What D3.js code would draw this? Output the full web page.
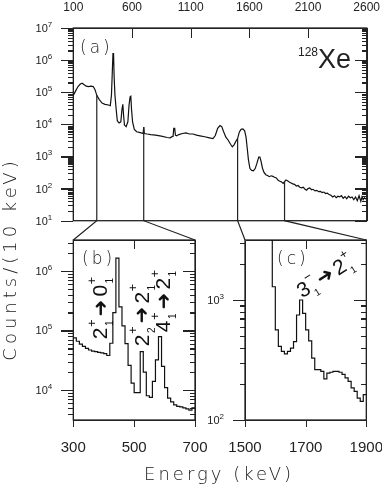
<!DOCTYPE html>
<html lang="en">
<head>
<meta charset="UTF-8">
<title>128Xe spectrum</title>
<style>
    body { margin: 0; background: #fff; }
    svg { display: block; will-change: transform; }
    .axis path, .axis line { fill: none; stroke: #222; stroke-width: 1.2; shape-rendering: crispEdges; }
    .frame { fill: none; stroke: #222; stroke-width: 1.3; }
    .spec { fill: none; stroke: #111; stroke-width: 1.2; }
    .link { fill: none; stroke: #222; stroke-width: 1.2; }
    .num { font-family: "Liberation Sans", Arial, sans-serif; fill: #222; }
    .title { font-family: "DejaVu Sans", sans-serif; font-weight: 200; fill: #1a1a1a; }
    .ann { font-family: "Liberation Sans", Arial, sans-serif; fill: #111; }
</style>
</head>
<body>
<svg></svg>
<script src="https://cdn.jsdelivr.net/npm/d3@7"></script>
<script>
// panel (a): whole spectrum, energy (keV) / counts per 10 keV
var energyA = [100,120,140,160,175,190,210,230,250,270,285,300,320,345,370,400,415,425,432,438,443,448,455,465,475,490,505,515,522,528,536,550,565,575,584,590,596,605,620,640,670,695,700,705,730,760,800,850,900,925,945,950,956,964,970,980,1000,1030,1060,1090,1120,1150,1180,1220,1260,1290,1310,1330,1350,1365,1380,1400,1420,1440,1455,1470,1490,1500,1515,1530,1545,1560,1572,1582,1592,1605,1620,1635,1650,1665,1680,1690,1700,1712,1725,1740,1755,1770,1785,1800,1815,1830,1845,1860,1875,1888,1900,1912,1925,1940,1955,1970,1985,2000,2015,2030,2045,2060,2075,2087,2100,2115,2130,2143,2160,2175,2190,2205,2220,2235,2250,2265,2280,2295,2310,2325,2340,2355,2370,2385,2400,2415,2430,2445,2460,2475,2490,2505,2520,2535,2550,2560,2570,2580,2590,2600];
var countsA = [8.0e4,1.1e5,1.5e5,1.8e5,1.9e5,1.75e5,1.55e5,1.5e5,1.55e5,1.5e5,1.2e5,8.0e4,6.0e4,4.6e4,4.2e4,4.0e4,3.8e4,8e4,4e5,1.6e6,1.6e6,3e5,8e4,3e4,1.3e4,1.1e4,1.2e4,3e4,4.2e4,2e4,9.5e3,8.5e3,1.2e4,4e4,7.2e4,7.5e4,3e4,1.2e4,7e3,5.9e3,5.5e3,5.2e3,8.2e3,5.2e3,5.0e3,4.8e3,4.6e3,4.3e3,3.9e3,3.8e3,4.2e3,4.2e3,7.5e3,7.5e3,4.6e3,4.4e3,4.8e3,5.2e3,5.4e3,5.0e3,5.0e3,4.6e3,4.4e3,4.1e3,3.8e3,3.6e3,4.5e3,7.5e3,9.2e3,8.5e3,6.0e3,4.0e3,3.2e3,2.4e3,2.0e3,2.3e3,3.2e3,3.6e3,5.8e3,7.0e3,7.2e3,6.3e3,4e3,1.8e3,800,420,370,360,420,620,950,950,700,430,320,270,255,235,250,240,225,215,180,170,160,145,165,185,175,160,150,140,135,120,125,110,105,110,95,89,100,105,92,95,85,88,80,82,75,78,70,72,65,62,55,60,52,58,55,60,50,56,48,58,52,55,45,55,42,60,40,55,45,52,48,50];

// panel (b): 10 keV bins, lower edges
var binsB = [300,310,320,330,340,350,360,370,380,390,400,410,420,430,440,450,460,470,480,490,500,510,520,530,540,550,560,570,580,590,600,610,620,630,640,650,660,670,680,690];
var countsB = [7.5e4,6.6e4,5.9e4,5.4e4,5.0e4,4.7e4,4.5e4,4.4e4,4.3e4,4.2e4,4.1e4,3.8e4,6.1e4,2.0e5,1.65e6,2.5e5,1.2e5,6.0e4,2.6e4,1.3e4,9.0e3,9.0e3,4.4e4,2.0e4,8.0e3,7.5e3,1.4e4,3.2e4,7.9e4,2.5e4,1.1e4,7.3e3,6.3e3,5.6e3,5.3e3,5.2e3,5.0e3,4.8e3,4.6e3,5.0e3];

// panel (c): 10 keV bins, lower edges
var binsC = [1500,1510,1520,1530,1540,1550,1560,1570,1580,1590,1600,1610,1620,1630,1640,1650,1660,1670,1680,1690,1700,1710,1720,1730,1740,1750,1760,1770,1780,1790,1800,1810,1820,1830,1840,1850,1860,1870,1880,1890];
var countsC = [3600,5000,6300,7000,7200,6800,6300,4500,3300,1290,564,410,373,356,373,397,450,750,1000,775,564,456,328,263,263,254,220,246,250,254,254,250,240,224,210,185,173,152,143,163];

var xTicksA = [100,600,1100,1600,2100,2600];
var xTicksB = [300,500,700];
var xTicksC = [1500,1700,1900];
var zoomB = [300,700];
var zoomC = [1500,1900];
var binWidth = 10;

var svg = d3.select("svg").attr("width",382).attr("height",489);

var xA = d3.scaleLinear().domain([100,2600]).range([73.3,366.7]);
var yA = d3.scaleLog().domain([10,1e7]).range([220.7,28]);
var xB = d3.scaleLinear().domain(zoomB).range([73.3,195]);
var yB = d3.scaleLog().domain([3130,3.32e6]).range([420,240]);
var xC = d3.scaleLinear().domain(zoomC).range([245,366.3]);
var yC = d3.scaleLog().domain([100,3162]).range([420,240]);

function decades(y) {
    var d = y.domain(), out = [];
    for (var e = Math.floor(Math.log10(d[0])); e <= Math.ceil(Math.log10(d[1])); e++) {
        var v = Math.pow(10,e);
        if (v >= d[0]*0.999 && v <= d[1]*1.001) out.push(v);
    }
    return out;
}
function minors(y) {
    var d = y.domain(), out = [];
    for (var e = Math.floor(Math.log10(d[0])); e <= Math.ceil(Math.log10(d[1])); e++)
        for (var m = 2; m <= 9; m++) {
            var v = m*Math.pow(10,e);
            if (v >= d[0] && v <= d[1]) out.push(v);
        }
    return out;
}

function frame(x, y, name) {
    var x0 = x.range()[0], x1 = x.range()[1], y0 = y.range()[1], y1 = y.range()[0];
    var g = svg.append("g");
    svg.append("clipPath").attr("id","clip"+name).append("rect")
        .attr("x",x0).attr("y",y0).attr("width",x1-x0).attr("height",y1-y0);
    // left: outward ticks, right: inward ticks
    g.append("g").attr("class","axis").attr("transform","translate("+x0+",0)")
        .call(d3.axisLeft(y).tickValues(decades(y)).tickSize(12).tickSizeOuter(0).tickFormat(""));
    g.append("g").attr("class","axis").attr("transform","translate("+x0+",0)")
        .call(d3.axisLeft(y).tickValues(minors(y)).tickSize(5).tickSizeOuter(0).tickFormat(""));
    g.append("g").attr("class","axis").attr("transform","translate("+x1+",0)")
        .call(d3.axisLeft(y).tickValues(decades(y)).tickSize(-12).tickSizeOuter(0).tickFormat(""))
        .selectAll("line").attr("x2",-12);
    g.append("g").attr("class","axis").attr("transform","translate("+x1+",0)")
        .call(d3.axisLeft(y).tickValues(minors(y)).tickSize(-5).tickSizeOuter(0).tickFormat(""))
        .selectAll("line").attr("x2",-5);
    g.append("rect").attr("class","frame").attr("x",x0).attr("y",y0)
        .attr("width",x1-x0).attr("height",y1-y0);
    // y labels 10^n
    g.selectAll(".ylab").data(decades(y)).enter().append("text")
        .attr("class","num")
        .attr("x",x0-21).attr("y",function(d){ return y(d)+4; })
        .attr("text-anchor","end").style("font-size","11px")
        .each(function(d){
            var t = d3.select(this);
            t.append("tspan").text("10");
            t.append("tspan").attr("dy",-5).style("font-size","8px").text(Math.round(Math.log10(d)));
        });
    return g;
}

// ---- panel (a)
var gA = frame(xA, yA, "A");
gA.append("g").attr("class","axis").attr("transform","translate(0,28)")
    .call(d3.axisBottom(xA).tickValues(xTicksA).tickSize(10).tickSizeOuter(0).tickFormat(""));
gA.selectAll(".xlab").data(xTicksA).enter().append("text").attr("class","num")
    .attr("x",function(d){ return xA(d); }).attr("y",11)
    .attr("text-anchor","middle").style("font-size","12px").text(function(d){ return d; });

var ptsA = energyA.map(function(e,i){ return [e,countsA[i]]; });
gA.append("path").datum(ptsA).attr("class","spec").attr("clip-path","url(#clipA)")
    .attr("d", d3.line().x(function(d){ return xA(d[0]); }).y(function(d){ return yA(d[1]); }));

// ---- panels (b), (c)
function histo(x, y, bins, counts, ticks, name) {
    var g = frame(x, y, name);
    var y0 = y.range()[1], y1 = y.range()[0];
    g.append("g").attr("class","axis").attr("transform","translate(0,"+y0+")")
        .call(d3.axisBottom(x).tickValues(ticks.slice(1,-1)).tickSize(9).tickSizeOuter(0).tickFormat(""));
    g.append("g").attr("class","axis").attr("transform","translate(0,"+y1+")")
        .call(d3.axisBottom(x).tickValues(ticks).tickSize(7).tickSizeOuter(0).tickFormat(""));
    g.selectAll(".xlab").data(ticks).enter().append("text").attr("class","num")
        .attr("x",function(d){ return x(d); }).attr("y",y1+32)
        .attr("text-anchor","middle").style("font-size","15px").text(function(d){ return d; });
    var pts = bins.map(function(b,i){ return [b,counts[i]]; });
    pts.push([bins[bins.length-1]+binWidth, counts[counts.length-1]]);
    g.append("path").datum(pts).attr("class","spec").attr("clip-path","url(#clip"+name+")")
        .attr("d", d3.line().curve(d3.curveStepAfter)
            .x(function(d){ return x(d[0]); }).y(function(d){ return y(d[1]); }));
    return g;
}
var gB = histo(xB, yB, binsB, countsB, xTicksB, "B");
var gC = histo(xC, yC, binsC, countsC, xTicksC, "C");

// ---- zoom connectors
function countAt(e) {
    var i = d3.bisector(function(d){ return d; }).left(energyA, e);
    if (energyA[i] === e) return countsA[i];
    var e0 = energyA[i-1], e1 = energyA[i], t = (e-e0)/(e1-e0);
    return Math.pow(10, Math.log10(countsA[i-1])*(1-t) + Math.log10(countsA[i])*t);
}
[[zoomB, xB], [zoomC, xC]].forEach(function(z){
    z[0].forEach(function(e, k){
        var xe = xA(e), yb = yA.range()[0];
        svg.append("path").attr("class","link")
            .attr("d", "M"+xe+","+yA(countAt(e))+"L"+xe+","+yb+"L"+z[1].range()[k]+","+yB.range()[1]);
    });
});

// ---- texts
svg.append("text").attr("class","title").attr("x",80).attr("y",53)
    .style("font-size","17px").style("letter-spacing","3px").text("(a)");
svg.append("text").attr("class","title").attr("x",82).attr("y",264)
    .style("font-size","17px").style("letter-spacing","3px").text("(b)");
svg.append("text").attr("class","title").attr("x",277).attr("y",264)
    .style("font-size","17px").style("letter-spacing","3px").text("(c)");

var xe = svg.append("text").attr("x",298).attr("y",68).attr("class","num");
xe.append("tspan").attr("dy",-12).style("font-size","12px").text("128");
xe.append("tspan").attr("dy",12).style("font-size","27px")
    .style("font-family","'Liberation Sans Narrow','Liberation Sans',sans-serif").text("Xe");

svg.append("text").attr("class","title")
    .attr("transform","translate(16,259) rotate(-90)").attr("text-anchor","middle")
    .style("font-size","18px").style("letter-spacing","4px").text("Counts/(10 keV)");
svg.append("text").attr("class","title").attr("x",219).attr("y",480).attr("text-anchor","middle")
    .style("font-size","18px").style("letter-spacing","3px").text("Energy (keV)");

// transition labels: [spin, parity, index]
function transition(cx, cy, angle, from, to) {
    var g = svg.append("g").attr("transform","translate("+cx+","+cy+") rotate("+angle+")");
    var inner = g.append("g");
    var cur = 0;
    function level(l) {
        var m = inner.append("text").attr("class","ann").attr("x",cur).attr("y",7)
            .style("font-size","21px").text(l[0]);
        cur += m.node().getComputedTextLength() + 0.5;
        var p = inner.append("text").attr("class","ann").attr("x",cur).attr("y",-4.5)
            .style("font-size","13px").text(l[1]);
        var s = inner.append("text").attr("class","ann").attr("x",cur+1).attr("y",13)
            .style("font-size","10px").text(l[2]);
        cur += Math.max(p.node().getComputedTextLength(), s.node().getComputedTextLength());
    }
    level(from);
    cur += 3;
    var a = inner.append("text").attr("class","ann").attr("x",cur).attr("y",6.5)
        .style("font-family","'DejaVu Sans',sans-serif").style("font-size","20px").text("\u279C");
    cur += a.node().getComputedTextLength() + 3;
    level(to);
    inner.attr("transform","translate("+(-cur/2)+",0)");
}
transition(100, 308, -90, ["2","+","1"], ["0","+","1"]);
transition(141.5, 315, -90, ["2","+","2"], ["2","+","1"]);
transition(163, 301, -90, ["4","+","1"], ["2","+","1"]);
transition(325, 276, -32, ["3","\u2212","1"], ["2","+","1"]);
</script>
</body>
</html>
